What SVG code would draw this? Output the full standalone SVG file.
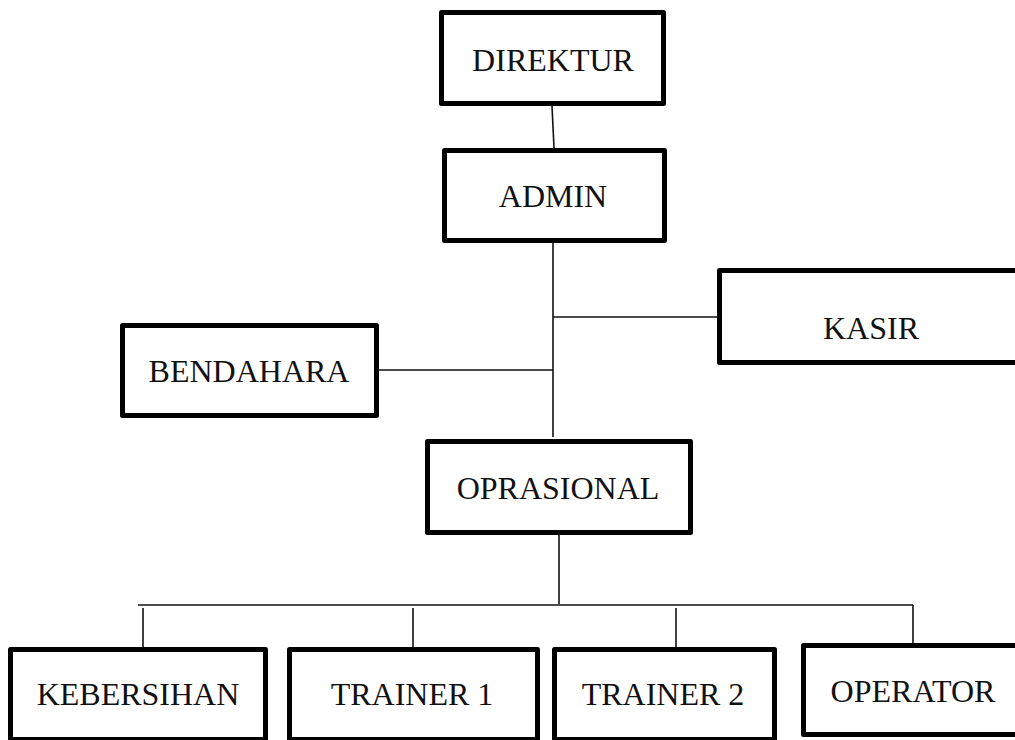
<svg xmlns="http://www.w3.org/2000/svg" width="1015" height="740" viewBox="0 0 1015 740">
<style>
.box{fill:#fff;stroke:#000;stroke-width:5;stroke-linejoin:round}
.lbl{font-family:"Liberation Serif","Times New Roman",serif;font-size:32px;fill:#111;text-anchor:middle}
.con line{stroke:#111;stroke-width:1.6}
</style>
<rect width="1015" height="740" fill="#fff"/>
<g id="connectors" class="con">
<line x1="552" y1="106" x2="554" y2="148"/>
<line x1="553" y1="243" x2="553" y2="437"/>
<line x1="553" y1="317" x2="717" y2="317"/>
<line x1="379" y1="370" x2="553" y2="370"/>
<line x1="559" y1="535" x2="559" y2="604"/>
<line x1="138" y1="605" x2="913" y2="605"/>
<line x1="913" y1="605" x2="913" y2="643"/>
<line x1="143" y1="608" x2="143" y2="647"/>
<line x1="413" y1="608" x2="413" y2="647"/>
<line x1="676" y1="608" x2="676" y2="647"/>
</g>
<g id="direktur"><rect class="box" x="441.5" y="12.5" width="222" height="91"/><text class="lbl" x="553" y="71">DIREKTUR</text></g>
<g id="admin"><rect class="box" x="444.5" y="150.5" width="220" height="90"/><text class="lbl" x="553" y="207">ADMIN</text></g>
<g id="bendahara"><rect class="box" x="122.5" y="325.5" width="254" height="90"/><text class="lbl" x="249" y="382">BENDAHARA</text></g>
<g id="kasir"><rect class="box" x="719.5" y="270.5" width="320" height="92"/><text class="lbl" x="871" y="339">KASIR</text></g>
<g id="oprasional"><rect class="box" x="427.5" y="441.5" width="263" height="91"/><text class="lbl" x="558" y="499">OPRASIONAL</text></g>
<g id="kebersihan"><rect class="box" x="10.5" y="649.5" width="255" height="90"/><text class="lbl" x="138" y="705">KEBERSIHAN</text></g>
<g id="trainer1"><rect class="box" x="289.5" y="649.5" width="248" height="90"/><text class="lbl" x="412" y="705">TRAINER 1</text></g>
<g id="trainer2"><rect class="box" x="554.5" y="649.5" width="220" height="90"/><text class="lbl" x="663" y="705">TRAINER 2</text></g>
<g id="operator"><rect class="box" x="803.5" y="645.5" width="230" height="89"/><text class="lbl" x="913" y="702">OPERATOR</text></g>
</svg>
